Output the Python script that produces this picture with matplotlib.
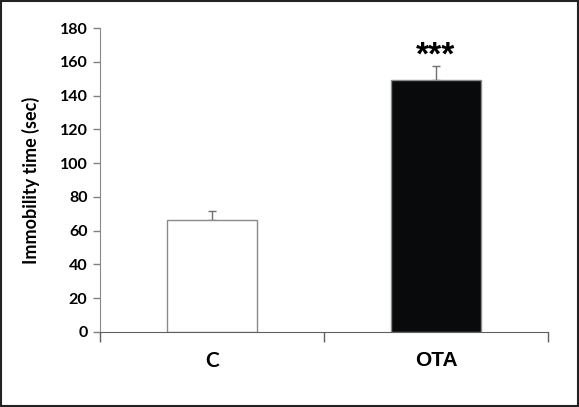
import matplotlib.pyplot as plt
from matplotlib.patches import Rectangle

# Data
groups = ["C", "OTA"]
immobility = [66.1, 149.2]
sem = [5.3, 8.5]
bar_colors = ["white", "#080a0b"]
significance = ["", "***"]

fig = plt.figure(figsize=(5.79, 4.07), dpi=100)
ax = fig.add_axes([0.1727, 0.1843, 0.9465 - 0.1727, 0.931 - 0.1843])

x = range(len(groups))
ax.bar(x, immobility, width=0.40, color=bar_colors,
       edgecolor="#8a8a8a", linewidth=1.0, zorder=2)
ax.errorbar(x, immobility, yerr=[[0, 0], sem], fmt="none",
            ecolor="#707070", elinewidth=1.0, capsize=3, capthick=1.0, zorder=1)

# significance stars above the error bars
for xi, val, err, s in zip(x, immobility, sem, significance):
    if s:
        ax.text(xi, val + err + 6, s, ha="center", va="center",
                fontsize=24, fontweight="bold", family="Liberation Sans")

ax.set_xlim(-0.5, 1.5)
ax.set_ylim(0, 180)
ax.set_yticks(range(0, 181, 20))
ax.set_xticks([-0.5, 0.5, 1.5])
ax.set_xticklabels([])
ax.tick_params(axis="x", direction="out", length=7, color="#606060", width=1)
ax.tick_params(axis="y", direction="out", length=5, color="#808080", width=1,
               labelsize=11.5, pad=4)
for lbl in ax.get_yticklabels():
    lbl.set_fontweight("bold")
    lbl.set_family("Lato")

# category labels under the bars
for xi, g in zip(x, groups):
    ax.text(xi, -0.095, g, transform=ax.get_xaxis_transform(), ha="center",
            va="center", fontsize=15, fontweight="bold",
            family="Lato" if g == "C" else "Liberation Sans")

ax.set_ylabel("Immobility time (sec)", fontsize=13, fontweight="bold",
              family="Lato", labelpad=14)

for side in ["top", "right"]:
    ax.spines[side].set_visible(False)
ax.spines["left"].set_color("#8a8a8a")
ax.spines["bottom"].set_color("#606060")

# black frame round the whole figure
fig.patches.append(Rectangle((0.002, 0.003), 0.996, 0.994, transform=fig.transFigure,
                             fill=False, edgecolor="#222222", linewidth=1.5))

fig.savefig("out.png", dpi=100)
